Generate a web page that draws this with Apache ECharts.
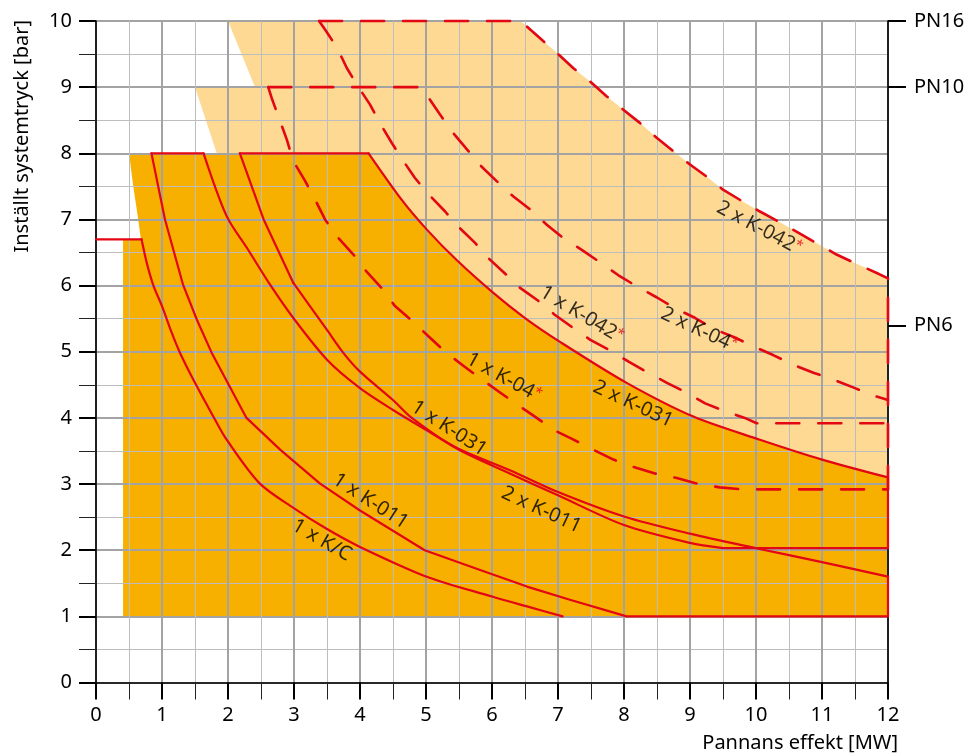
<!DOCTYPE html>
<html><head><meta charset="utf-8">
<script src="https://cdn.jsdelivr.net/npm/echarts@6/dist/echarts.min.js"></script>
<style>html,body{margin:0;padding:0;background:#fff}#c{width:970px;height:756px}</style>
</head><body><div id="c"></div>
<script>
// ---- data (x = Pannans effekt [MW], y = Inställt systemtryck [bar]) ----
const xRange = [0, 12];
const yRange = [0, 10];
const pnValues = [10, 9, 5.4];
const pnLabels = ['PN16', 'PN10', 'PN6'];

// solid curves
const kc_1x = [[0,6.7],[0.69,6.7],[0.77,6.34],[0.87,6.0],[1.0,5.69],[1.15,5.28],[1.27,4.99],[1.5,4.53],[1.8,3.98],[1.98,3.67],[2.48,3.01],[2.99,2.64],[3.5,2.32],[4.0,2.05],[5.01,1.6],[6.0,1.3],[6.53,1.15],[7.07,1.0]];
const k011_1x = [[0.84,8],[1.045,7.0],[1.32,6.01],[1.53,5.48],[1.75,4.99],[2.28,4.0],[2.79,3.52],[3.39,3.01],[4.0,2.6],[4.98,2.0],[5.82,1.7],[6.53,1.45],[7.18,1.25],[8.04,1.0],[12,1.0]];
const k011_2x = [[0.84,8],[1.63,8],[1.98,7.05],[2.3,6.55],[2.64,6.01],[2.99,5.51],[3.5,4.88],[4.0,4.45],[4.5,4.12],[5.0,3.82],[5.5,3.53],[6.27,3.21],[7.0,2.88],[8.0,2.51],[9.0,2.25],[10.0,2.03],[11.0,1.82],[12,1.6],[12,1.0]];
const k031_1x = [[2.18,8],[2.54,7.0],[2.99,6.04],[3.5,5.33],[3.75,4.98],[4.0,4.70],[4.5,4.27],[4.76,4.02],[5.46,3.54],[6.27,3.16],[7.0,2.83],[8.0,2.38],[9.0,2.11],[9.5,2.03],[12,2.03],[12,3.1]];
const k031_2x = [[2.18,8],[4.13,8],[4.63,7.3],[5.01,6.85],[5.46,6.39],[6.02,5.89],[6.5,5.51],[7.03,5.15],[8.04,4.53],[9.05,4.02],[10.06,3.67],[11.0,3.37],[12,3.1]];

// dashed curves
const k04_1x = [[2.61,9],[2.66,8.84],[2.89,8.21],[2.99,7.88],[3.17,7.58],[3.32,7.3],[3.47,7.0],[3.67,6.72],[3.9,6.47],[4.1,6.21],[4.33,5.96],[4.53,5.69],[4.8,5.46],[5.04,5.23],[5.29,5.0],[5.55,4.8],[5.82,4.6],[6.1,4.4],[6.37,4.21],[6.65,4.02],[6.93,3.82],[7.22,3.68],[7.53,3.52],[7.84,3.37],[8.14,3.26],[8.47,3.16],[8.8,3.09],[9.13,3.0],[9.45,2.95],[9.8,2.92],[12,2.92]];
const k04_2x = [[2.61,9],[4.93,9],[5.04,8.84],[5.21,8.59],[5.41,8.31],[5.62,8.06],[5.84,7.8],[6.07,7.58],[6.32,7.35],[6.58,7.15],[6.83,6.92],[7.08,6.72],[7.36,6.54],[7.64,6.35],[7.91,6.16],[8.19,5.99],[8.5,5.82],[8.77,5.66],[9.08,5.51],[9.37,5.34],[9.67,5.22],[9.96,5.08],[10.26,4.95],[10.57,4.8],[10.88,4.68],[11.17,4.58],[11.5,4.45],[11.8,4.33],[12,4.27]];
const k042_1x = [[3.38,10],[3.47,9.87],[3.65,9.6],[3.8,9.29],[3.97,9.01],[4.15,8.74],[4.3,8.46],[4.48,8.16],[4.66,7.88],[4.83,7.63],[5.04,7.38],[5.29,7.12],[5.49,6.89],[5.74,6.65],[5.94,6.42],[6.2,6.18],[6.42,5.97],[6.7,5.77],[6.95,5.56],[7.23,5.36],[7.49,5.18],[7.79,5.02],[8.07,4.85],[8.37,4.68],[8.65,4.53],[8.95,4.38],[9.23,4.22],[9.53,4.1],[9.83,4.0],[10.01,3.92],[12,3.92]];
const k042_2x = [[3.38,10],[6.42,10],[6.47,9.97],[6.75,9.72],[6.98,9.52],[7.23,9.29],[7.48,9.09],[7.74,8.86],[7.99,8.66],[8.24,8.46],[8.5,8.23],[8.75,8.03],[9.0,7.83],[9.25,7.65],[9.5,7.45],[9.8,7.27],[10.06,7.12],[10.34,6.97],[10.64,6.8],[10.92,6.64],[11.22,6.47],[11.5,6.34],[11.83,6.19],[12,6.11],[12,2.92]];

// region edges
const darkLeftEdge = [[0.41,1],[0.41,6.7],[0.68,6.7],[0.64,7.0],[0.565,7.5],[0.5,8]];
const lightLeftEdge = [[1.83,8],[1.5,9],[2.41,9],[2.0,10]];
const regionBottomRight = [[12,1]];

// curve labels
const labelTexts = ['1 x K/C','1 x K-011','1 x K-031','2 x K-011','2 x K-031','1 x K-04','1 x K-042','2 x K-04','2 x K-042'];
const labelStar = [false,false,false,false,false,true,true,true,true];
const labelAnchor = [[3.42,2.15],[4.16,2.74],[5.35,3.84],[6.75,2.61],[8.14,4.21],[6.18,4.61],[7.36,5.56],[9.14,5.33],[10.05,6.87]];
const labelAngle = [-30,-33,-33,-25,-25,-29,-31,-25,-28];

// ---- styles ----
const RED = '#e30613';
const DARK = '#f8b000';
const LIGHT = '#fdd993';
const FONT = 'Noto Sans';

// polygons built from the arrays
const darkPoly = darkLeftEdge.concat(k031_2x.slice(1), regionBottomRight);
const k042Edge = k042_2x.slice(1, k042_2x.length - 1);
const k031Rev = k031_2x.slice(1).reverse();
const lightPoly = lightLeftEdge.concat(k042Edge, k031Rev);

function polySeries(name, pts, color) {
  return {
    name: name, type: 'custom', coordinateSystem: 'cartesian2d', silent: true, z: 0,
    data: pts,
    renderItem: function (params, api) {
      if (params.dataIndex !== 0) return null;
      return { type: 'polygon', shape: { points: pts.map(function (p) { return api.coord(p); }) }, style: { fill: color } };
    }
  };
}
function lineSeries(name, pts, dashed, smooth) {
  return {
    name: name, type: 'line', data: pts, showSymbol: false, symbol: 'none', silent: true, z: 5,
    smooth: smooth || false,
    lineStyle: { color: RED, width: dashed ? 2.6 : 2.2, type: dashed ? [23, 19] : 'solid', cap: 'round', join: 'round' },
    clip: false
  };
}
// straight pieces (horizontal/vertical limits) are drawn apart from the curved pieces
function piece(name, pts, from, to, smooth) {
  return lineSeries(name, pts.slice(from, to + 1), false, smooth);
}

const labelData = labelTexts.map(function (t, i) {
  return {
    value: labelAnchor[i],
    label: { rotate: labelAngle[i], formatter: labelStar[i] ? '{t|' + t + '}{s|*}' : '{t|' + t + '}' }
  };
});

const chart = echarts.init(document.getElementById('c'), null, { renderer: 'canvas' });
const axisCommon = {
  type: 'value', z: 2,
  axisLine: { show: true, onZero: false, lineStyle: { color: '#000', width: 1.6 } },
  axisTick: { show: true, length: 17, lineStyle: { color: '#000', width: 2 } },
  minorTick: { show: true, splitNumber: 2, length: 17, lineStyle: { color: '#222', width: 1 } },
  splitLine: { show: true, lineStyle: { color: '#a3a3a3', width: 2 } },
  minorSplitLine: { show: true, lineStyle: { color: '#bdbdbd', width: 1 } },
  axisLabel: { color: '#000', fontSize: 20, fontFamily: FONT }
};

chart.setOption({
  animation: false,
  backgroundColor: '#fff',
  grid: { left: 96, right: 82, top: 21, bottom: 73.5, containLabel: false },
  xAxis: Object.assign({}, axisCommon, {
    min: xRange[0], max: xRange[1], interval: 1,
    axisLabel: Object.assign({}, axisCommon.axisLabel, { margin: 23 })
  }),
  yAxis: [
    Object.assign({}, axisCommon, {
      min: yRange[0], max: yRange[1], interval: 1, position: 'left',
      axisLabel: Object.assign({}, axisCommon.axisLabel, { margin: 24 })
    }),
    {
      type: 'value', position: 'right', min: yRange[0], max: yRange[1], z: 2,
      axisLine: { show: true, onZero: false, lineStyle: { color: '#000', width: 1.6 } },
      axisTick: { show: true, length: 18, customValues: pnValues, lineStyle: { color: '#000', width: 2 } },
      splitLine: { show: false },
      axisLabel: {
        color: '#000', fontSize: 20, fontFamily: FONT, margin: 26, customValues: pnValues,
        formatter: function (v) { const i = pnValues.indexOf(v); return i >= 0 ? pnLabels[i] : ''; }
      }
    }
  ],
  graphic: [
    { type: 'text', x: 898, y: 743, silent: true,
      style: { text: 'Pannans effekt [MW]', fill: '#000', font: '20px "Noto Sans"', textAlign: 'right', textVerticalAlign: 'middle' } },
    { type: 'text', x: 22, y: 20, rotation: Math.PI / 2, silent: true,
      style: { text: 'Inställt systemtryck [bar]', fill: '#000', font: '20px "Noto Sans"', textAlign: 'right', textVerticalAlign: 'middle' } }
  ],
  series: [
    polySeries('PN16-område', lightPoly, LIGHT),
    polySeries('PN8-område', darkPoly, DARK),
    piece('1 x K/C', kc_1x, 0, 1, 0),
    piece('1 x K/C', kc_1x, 1, 17, 0.3),
    piece('1 x K-011', k011_1x, 0, 14, 0),
    piece('2 x K-011', k011_2x, 0, 1, 0),
    piece('2 x K-011', k011_2x, 1, 17, 0.3),
    piece('2 x K-011', k011_2x, 17, 18, 0),
    piece('1 x K-031', k031_1x, 0, 2, 0),
    piece('1 x K-031', k031_1x, 2, 13, 0.3),
    piece('1 x K-031', k031_1x, 13, 15, 0),
    piece('2 x K-031', k031_2x, 0, 1, 0),
    piece('2 x K-031', k031_2x, 1, 12, 0.3),
    lineSeries('1 x K-04*', k04_1x, true),
    lineSeries('2 x K-04*', k04_2x, true),
    lineSeries('1 x K-042*', k042_1x, true),
    lineSeries('2 x K-042*', k042_2x, true),
    {
      name: 'etiketter', type: 'scatter', symbolSize: 0, silent: true, z: 6,
      data: labelData,
      label: {
        show: true, position: 'inside', align: 'center', verticalAlign: 'middle',
        rich: {
          t: { fontSize: 20, fontFamily: FONT, color: '#000' },
          s: { fontSize: 14, fontFamily: FONT, color: RED, padding: [0, 0, 6, 0] }
        }
      }
    }
  ]
});
</script>
</body></html>
